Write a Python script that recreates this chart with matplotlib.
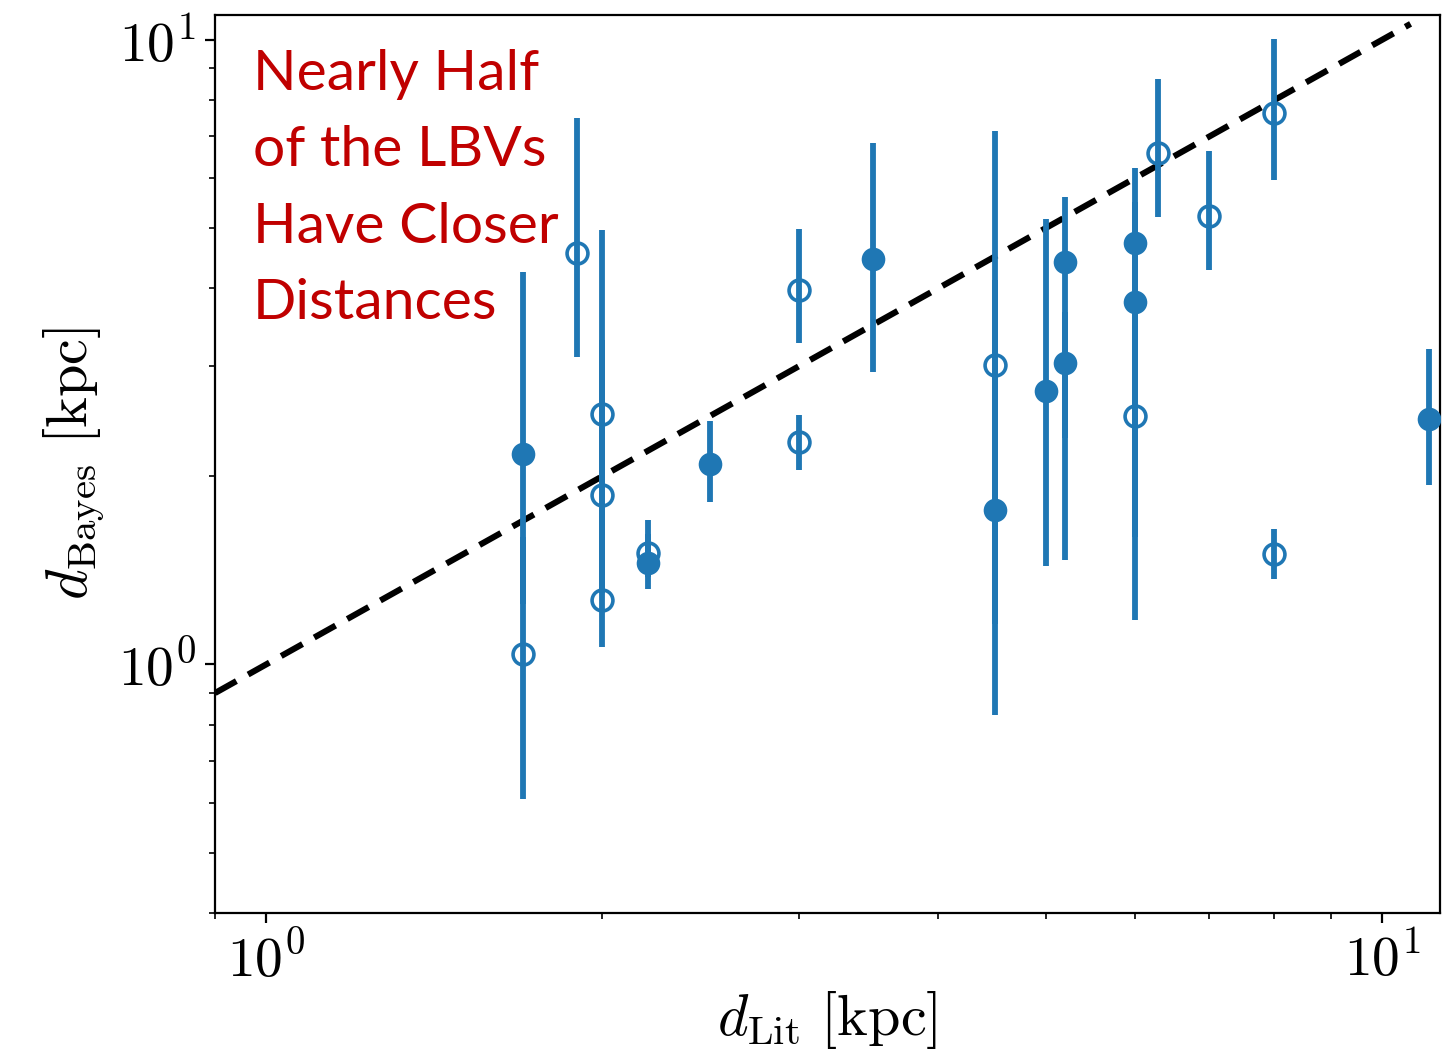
import matplotlib
matplotlib.use("Agg")
import matplotlib.pyplot as plt
import numpy as np

plt.rcParams['mathtext.fontset'] = 'cm'
plt.rcParams['font.family'] = 'serif'
plt.rcParams['font.serif'] = ['cmr10']
plt.rcParams['axes.formatter.use_mathtext'] = True

# filled points: literature distance, Bayes distance, lower / upper bound
x_fill = [1.7, 2.2, 2.5, 3.5, 4.5, 5.0, 5.2, 5.2, 6.0, 6.0, 11.0]
y_fill = [2.17, 1.456, 2.09, 4.46, 1.77, 2.74, 4.40, 3.04, 4.72, 3.81, 2.47]
lo_fill = [1.25, 1.32, 1.82, 2.94, 0.83, 1.44, 2.30, 1.47, 3.00, 1.18, 1.94]
hi_fill = [4.25, 1.62, 2.45, 6.84, 4.13, 5.17, 5.60, 3.67, 6.24, 5.50, 3.20]

# open points
x_open = [1.7, 1.9, 2.0, 2.0, 2.0, 2.2, 3.0, 3.0, 4.5, 6.0, 6.3, 7.0, 8.0, 8.0]
y_open = [1.04, 4.55, 2.52, 1.87, 1.27, 1.51, 3.97, 2.27, 3.01, 2.50, 6.59, 5.23, 7.64, 1.50]
lo_open = [0.61, 3.10, 1.50, 1.30, 1.065, 1.38, 3.27, 2.05, 1.16, 1.60, 5.21, 4.28, 5.97, 1.37]
hi_open = [1.60, 7.50, 4.95, 3.30, 1.90, 1.70, 4.98, 2.51, 7.15, 3.50, 8.66, 6.64, 10.04, 1.65]

line_x = [0.9, 10.6]

blue = '#1f77b4'

fig = plt.figure(figsize=(7.28, 5.29), dpi=200)
ax = fig.add_axes([0.1477, 0.137, 0.8415, 0.849])

ax.plot(line_x, line_x, '--', color='black', lw=2.2, dashes=(4, 2.2), zorder=1)

yf = np.array(y_fill)
ax.errorbar(x_fill, yf, yerr=[yf - np.array(lo_fill), np.array(hi_fill) - yf],
            fmt='o', color=blue, ms=7.5, elinewidth=2.1, capsize=0, zorder=3)

yo = np.array(y_open)
ax.errorbar(x_open, yo, yerr=[yo - np.array(lo_open), np.array(hi_open) - yo],
            fmt='o', color=blue, mfc='none', mec=blue, mew=1.3, ms=7.5,
            elinewidth=2.1, capsize=0, zorder=2)

ax.set_xscale('log')
ax.set_yscale('log')
ax.set_xlim(0.9, 11.27)
ax.set_ylim(0.40, 10.96)

ax.tick_params(labelsize=20)
ax.set_xlabel(r'$d_{\rm Lit}\ [{\rm kpc}]$', fontsize=21, labelpad=0)
ax.set_ylabel(r'$d_{\rm Bayes}\ [{\rm kpc}]$', fontsize=21, labelpad=4)

ax.text(0.031, 0.962, 'Nearly Half\nof the LBVs\nHave Closer\nDistances',
        transform=ax.transAxes, ha='left', va='top', color='#c00000',
        fontsize=20.5, family='Lato', linespacing=1.62)

fig.savefig('out.png', dpi=200)
